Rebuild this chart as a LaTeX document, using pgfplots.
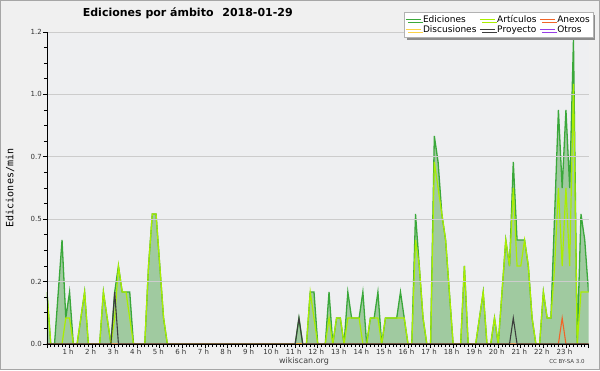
\documentclass[border=0pt]{standalone}
\usepackage{fontspec}
\setmainfont{DejaVu Sans}
\newfontfamily\monofont{DejaVu Sans Mono}
\usepackage{pgfplots}
\usepackage{pgfplotstable}
\pgfplotsset{compat=1.18}
\usetikzlibrary{shadows}
\definecolor{bgout}{RGB}{240,240,240}
\definecolor{bgplot}{RGB}{238,239,241}
\definecolor{edcol}{RGB}{58,168,58}
\definecolor{edfill}{RGB}{160,202,160}
\definecolor{artcol}{RGB}{170,238,0}
\definecolor{anxcol}{RGB}{240,100,40}
\definecolor{discol}{RGB}{250,210,70}
\definecolor{procol}{RGB}{60,60,60}
\definecolor{otrcol}{RGB}{150,60,230}
\definecolor{gridcol}{RGB}{204,204,204}

\pgfplotstableread{
x E A P X
0 0.2 0.2 0 0
1 0 0 0 0
2 0 0 0 0
3 0.2 0 0 0
4 0.4 0 0 0
5 0.1 0.1 0 0
6 0.2 0.1 0 0
7 0 0 0 0
8 0 0 0 0
9 0.1 0.1 0 0
10 0.2 0.2 0 0
11 0 0 0 0
12 0 0 0 0
13 0 0 0 0
14 0 0 0 0
15 0.2 0.2 0 0
16 0.1 0.1 0 0
17 0 0 0 0
18 0.2 0.1 0.2 0
19 0.3 0.3 0 0
20 0.2 0.2 0 0
21 0.2 0.2 0 0
22 0.2 0.1 0 0
23 0 0 0 0
24 0 0 0 0
25 0 0 0 0
26 0 0 0 0
27 0.3 0.3 0 0
28 0.5 0.5 0 0
29 0.5 0.5 0 0
30 0.3 0.3 0 0
31 0.1 0.1 0 0
32 0 0 0 0
33 0 0 0 0
34 0 0 0 0
35 0 0 0 0
36 0 0 0 0
37 0 0 0 0
38 0 0 0 0
39 0 0 0 0
40 0 0 0 0
41 0 0 0 0
42 0 0 0 0
43 0 0 0 0
44 0 0 0 0
45 0 0 0 0
46 0 0 0 0
47 0 0 0 0
48 0 0 0 0
49 0 0 0 0
50 0 0 0 0
51 0 0 0 0
52 0 0 0 0
53 0 0 0 0
54 0 0 0 0
55 0 0 0 0
56 0 0 0 0
57 0 0 0 0
58 0 0 0 0
59 0 0 0 0
60 0 0 0 0
61 0 0 0 0
62 0 0 0 0
63 0 0 0 0
64 0 0 0 0
65 0 0 0 0
66 0 0 0 0
67 0.1 0 0.1 0
68 0 0 0 0
69 0 0 0 0
70 0.2 0.2 0 0
71 0.2 0.1 0 0
72 0 0 0 0
73 0 0 0 0
74 0 0 0 0
75 0.2 0.1 0 0
76 0 0 0 0
77 0.1 0.1 0 0
78 0.1 0.1 0 0
79 0 0 0 0
80 0.2 0.1 0 0
81 0.1 0.1 0 0
82 0.1 0.1 0 0
83 0.1 0.1 0 0
84 0.2 0 0 0
85 0 0 0 0
86 0.1 0.1 0 0
87 0.1 0.1 0 0
88 0.2 0.1 0 0
89 0 0 0 0
90 0.1 0.1 0 0
91 0.1 0.1 0 0
92 0.1 0.1 0 0
93 0.1 0.1 0 0
94 0.2 0.1 0 0
95 0.1 0.1 0 0
96 0 0 0 0
97 0 0 0 0
98 0.5 0.4 0 0
99 0.3 0.3 0 0
100 0.1 0.1 0 0
101 0 0 0 0
102 0 0 0 0
103 0.8 0.7 0 0
104 0.7 0.6 0 0
105 0.5 0.5 0 0
106 0.4 0.4 0 0
107 0.2 0.2 0 0
108 0 0 0 0
109 0 0 0 0
110 0 0 0 0
111 0.3 0.3 0 0
112 0 0 0 0
113 0 0 0 0
114 0 0 0 0
115 0.1 0.1 0 0
116 0.2 0.2 0 0
117 0 0 0 0
118 0 0 0 0
119 0.1 0.1 0 0
120 0 0 0 0
121 0.2 0.2 0 0
122 0.4 0.4 0 0
123 0.3 0.3 0 0
124 0.7 0.6 0.1 0
125 0.4 0.3 0 0
126 0.4 0.3 0 0
127 0.4 0.4 0 0
128 0.3 0.3 0 0
129 0.1 0.1 0 0
130 0 0 0 0
131 0 0 0 0
132 0.2 0.2 0 0
133 0.1 0.1 0 0
134 0.1 0.1 0 0
135 0.5 0.3 0 0
136 0.9 0.6 0 0
137 0.6 0.3 0 0.1
138 0.9 0.6 0 0
139 0.6 0.3 0 0
140 1.17 1.0 0 0
141 0 0 0 0
142 0.5 0.2 0 0
143 0.4 0.2 0 0
144 0.2 0.2 0 0
}\data

\begin{document}
\begin{tikzpicture}
\path[use as bounding box] (-47pt,-26pt) rectangle (553pt,344pt);
\fill[bgout] (-47pt,-26pt) rectangle (553pt,344pt);
\draw[black!35, line width=1pt] (-46.5pt,-25.5pt) rectangle (552.5pt,343.5pt);
\begin{axis}[
  anchor=south west,
  scale only axis, width=541.5pt, height=312pt,
  xmin=0, xmax=144, ymin=0, ymax=1.2,
  axis x line*=bottom, axis y line*=left,
  axis line style={black, line width=0.9pt},
  axis background/.style={fill=bgplot},
  axis on top,
  xtick={0,6,...,144},
  xticklabels={,1 h,2 h,3 h,4 h,5 h,6 h,7 h,8 h,9 h,10 h,11 h,12 h,13 h,14 h,15 h,16 h,17 h,18 h,19 h,20 h,21 h,22 h,23 h,},
  minor x tick num=5,
  ytick={0,0.24,0.48,0.72,0.96,1.2},
  yticklabels={0.0,0.2,0.5,0.7,1.0,1.2},
  minor y tick num=3,
  tick align=outside,
  major tick length=4pt, minor tick length=3pt,
  tick style={black, line width=0.8pt},
  ymajorgrids, major grid style={gridcol, line width=0.8pt},
  xticklabel style={font=\fontsize{7}{8}\selectfont, inner sep=0.5pt, text=black!80, xshift=-1.5pt},
  yticklabel style={font=\fontsize{7}{8}\selectfont, inner sep=1pt, text=black!80},
  ylabel={Ediciones/min},
  every axis y label/.style={at={(axis description cs:-0.0683,0.5)}, rotate=90, anchor=center, font=\monofont\fontsize{10}{12}\selectfont},
  title={Ediciones por ámbito\hspace{0.8em}2018-01-29},
  title style={at={(axis description cs:0.26,1.04)}, anchor=center, font=\bfseries\fontsize{11}{13}\selectfont},
  legend columns=3,
  legend cell align=left,
  legend image code/.code={\draw[#1, line width=0.8pt] (0pt,0pt) -- (15pt,0pt);},
  legend style={at={(axis description cs:0.659,1.064)}, anchor=north west,
    draw=black!30, fill=white, font=\fontsize{9}{10}\selectfont,
    inner sep=1.2pt, row sep=-2.5pt,
    drop shadow={shadow xshift=2.5pt, shadow yshift=-2.5pt, fill=black!45, opacity=1},
    /tikz/every even column/.append style={column sep=1pt}},
]
\addplot[draw=none, fill=edfill, forget plot] table[x=x, y=E] {\data} \closedcycle;
\addplot[edcol, line width=1.3pt] table[x=x, y=E] {\data};
\addlegendentry{Ediciones}
\addplot[artcol, line width=1.2pt] table[x=x, y=A] {\data};
\addlegendentry{Artículos}
\addplot[anxcol, line width=1.1pt] table[x=x, y=X] {\data};
\addlegendentry{Anexos}
\addlegendimage{discol}
\addlegendentry{Discusiones}
\addplot[procol, line width=1.1pt] table[x=x, y=P] {\data};
\addlegendentry{Proyecto}
\addlegendimage{otrcol}
\addlegendentry{Otros}
\end{axis}
\node[font=\fontsize{8}{9}\selectfont, text=black!75] at (257pt,-17pt) {wikiscan.org};
\node[font=\fontsize{5.5}{6}\selectfont, text=black!75] at (520pt,-17pt) {CC BY-SA 3.0};
\end{tikzpicture}
\end{document}
